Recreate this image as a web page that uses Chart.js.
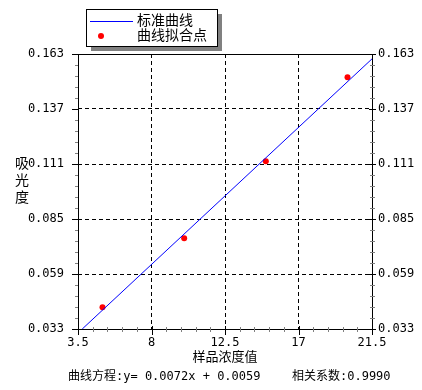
<!DOCTYPE html>
<html>
<head>
<meta charset="utf-8">
<script src="https://cdn.jsdelivr.net/npm/chart.js@4.4.0/dist/chart.umd.min.js"></script>
<style>
  html, body { margin: 0; padding: 0; background: #fff; }
  #wrap { width: 422px; height: 390px; position: relative; }
</style>
</head>
<body>
<div id="wrap"><canvas id="chart" width="422" height="390"></canvas></div>
<script>
// fitted points
const pointX = [5, 10, 15, 20];
const pointY = [0.0433, 0.0759, 0.1123, 0.152];

// standard curve y = 0.0072x + 0.0059, end points
const lineX = [3.76, 21.5];
const lineY = [0.033, 0.1607];

const xTicks = [3.5, 8, 12.5, 17, 21.5];
const yTicks = [0.033, 0.059, 0.085, 0.111, 0.137, 0.163];

const legendLabels = ['标准曲线', '曲线拟合点'];
const xTitle = '样品浓度值';
const yTitle = ['吸', '光', '度'];
const equationText = '曲线方程:y= 0.0072x + 0.0059';
const corrText = '相关系数:0.9990';

const FONT = '"DejaVu Sans Mono", "Noto Sans CJK SC"';

const setTicks = (list) => (scale) => {
  scale.ticks = list.map(v => ({ value: v }));
};

const extras = {
  id: 'extras',
  afterDraw(chart) {
    const ctx = chart.ctx;
    const a = chart.chartArea;
    const xs = chart.scales.x, yl = chart.scales.y, yr = chart.scales.y2;
    ctx.save();

    // plot frame
    ctx.strokeStyle = '#000';
    ctx.lineWidth = 1;
    ctx.setLineDash([]);
    ctx.strokeRect(Math.round(a.left) + 0.5, Math.round(a.top) + 0.5,
      Math.round(a.right - a.left), Math.round(a.bottom - a.top));

    // ticks (major + 4 minor between)
    ctx.strokeStyle = '#808080';
    for (let i = 0; i < yTicks.length; i++) {
      const py = Math.round(yl.getPixelForValue(yTicks[i])) + 0.5;
      ctx.strokeStyle = '#000';
      ctx.beginPath();
      ctx.moveTo(a.left - 6, py); ctx.lineTo(a.left, py);
      ctx.moveTo(a.right - 3, py); ctx.lineTo(a.right + 4, py);
      ctx.stroke();
      if (i < yTicks.length - 1) {
        const step = (yTicks[i + 1] - yTicks[i]) / 5;
        ctx.strokeStyle = '#808080';
        ctx.beginPath();
        for (let k = 1; k < 5; k++) {
          const my = Math.round(yl.getPixelForValue(yTicks[i] + step * k)) + 0.5;
          ctx.moveTo(a.left - 3, my); ctx.lineTo(a.left, my);
          ctx.moveTo(a.right - 2, my); ctx.lineTo(a.right + 3, my);
        }
        ctx.stroke();
      }
    }
    for (let i = 0; i < xTicks.length; i++) {
      const px = Math.round(xs.getPixelForValue(xTicks[i])) + 0.5;
      ctx.strokeStyle = '#000';
      ctx.beginPath();
      ctx.moveTo(px, a.bottom - 3); ctx.lineTo(px, a.bottom + 6);
      ctx.stroke();
      if (i < xTicks.length - 1) {
        const step = (xTicks[i + 1] - xTicks[i]) / 5;
        ctx.strokeStyle = '#808080';
        ctx.beginPath();
        for (let k = 1; k < 5; k++) {
          const mx = Math.round(xs.getPixelForValue(xTicks[i] + step * k)) + 0.5;
          ctx.moveTo(mx, a.bottom - 2); ctx.lineTo(mx, a.bottom + 3);
        }
        ctx.stroke();
      }
    }

    // legend with shadow
    const lx = 86, ly = 9, lw = 131, lh = 37;
    ctx.fillStyle = '#808080';
    ctx.fillRect(lx + 5, ly + 5, lw, lh);
    ctx.fillStyle = '#fff';
    ctx.fillRect(lx, ly, lw, lh);
    ctx.strokeStyle = '#000';
    ctx.strokeRect(lx + 0.5, ly + 0.5, lw, lh);
    const ds = chart.data.datasets;
    ctx.strokeStyle = ds[0].borderColor;
    ctx.beginPath();
    ctx.moveTo(90, 21.5); ctx.lineTo(133, 21.5);
    ctx.stroke();
    ctx.fillStyle = ds[1].backgroundColor;
    ctx.beginPath();
    ctx.arc(101, 36, 3, 0, Math.PI * 2);
    ctx.fill();
    ctx.fillStyle = '#000';
    ctx.font = '14px ' + FONT;
    ctx.textBaseline = 'middle';
    ctx.textAlign = 'left';
    ctx.fillText(ds[0].label, 137, 21);
    ctx.fillText(ds[1].label, 137, 36);

    // y title, stacked
    ctx.textAlign = 'center';
    ctx.font = '14px ' + FONT;
    yTitle.forEach((c, i) => ctx.fillText(c, 22, 164 + i * 17));

    // x title and footer
    ctx.font = '13px ' + FONT;
    ctx.fillText(xTitle, (a.left + a.right) / 2, 358);
    ctx.textAlign = 'left';
    ctx.font = '12px ' + FONT;
    ctx.fillText(equationText, 68, 377);
    ctx.fillText(corrText, 292, 377);
    ctx.restore();
  }
};

const tickFont = { family: FONT, size: 12 };

new Chart(document.getElementById('chart'), {
  data: {
    datasets: [
      {
        type: 'line',
        label: legendLabels[0],
        data: lineX.map((x, i) => ({ x: x, y: lineY[i] })),
        borderColor: '#0000ff',
        borderWidth: 1,
        pointRadius: 0,
        fill: false
      },
      {
        type: 'scatter',
        label: legendLabels[1],
        data: pointX.map((x, i) => ({ x: x, y: pointY[i] })),
        backgroundColor: '#ff0000',
        borderColor: '#ff0000',
        pointRadius: 3,
        pointBorderWidth: 0
      }
    ]
  },
  options: {
    responsive: false,
    animation: false,
    layout: { padding: { top: 54, left: 0, right: 0, bottom: 0 } },
    plugins: { legend: { display: false }, tooltip: { enabled: false } },
    scales: {
      x: {
        type: 'linear',
        min: 3.5, max: 21.5,
        afterBuildTicks: setTicks(xTicks),
        afterFit: (s) => { s.height = 61; },
        ticks: { color: '#000', font: tickFont, padding: 7, maxRotation: 0, autoSkip: false,
          callback: (v) => String(v) },
        grid: { color: '#000', drawTicks: false, lineWidth: 1 },
        border: { display: false, dash: [4, 3] }
      },
      y: {
        type: 'linear', position: 'left',
        min: 0.033, max: 0.163,
        afterBuildTicks: setTicks(yTicks),
        afterFit: (s) => { s.width = 78; },
        ticks: { color: '#000', font: tickFont, padding: 14, autoSkip: false,
          callback: (v) => v.toFixed(3) },
        grid: { color: '#000', drawTicks: false, lineWidth: 1 },
        border: { display: false, dash: [4, 3] }
      },
      y2: {
        type: 'linear', position: 'right',
        min: 0.033, max: 0.163,
        afterBuildTicks: setTicks(yTicks),
        afterFit: (s) => { s.width = 50; },
        ticks: { color: '#000', font: tickFont, padding: 6, autoSkip: false,
          callback: (v) => v.toFixed(3) },
        grid: { drawOnChartArea: false, drawTicks: false },
        border: { display: false }
      }
    }
  },
  plugins: [extras]
});
</script>
</body>
</html>
